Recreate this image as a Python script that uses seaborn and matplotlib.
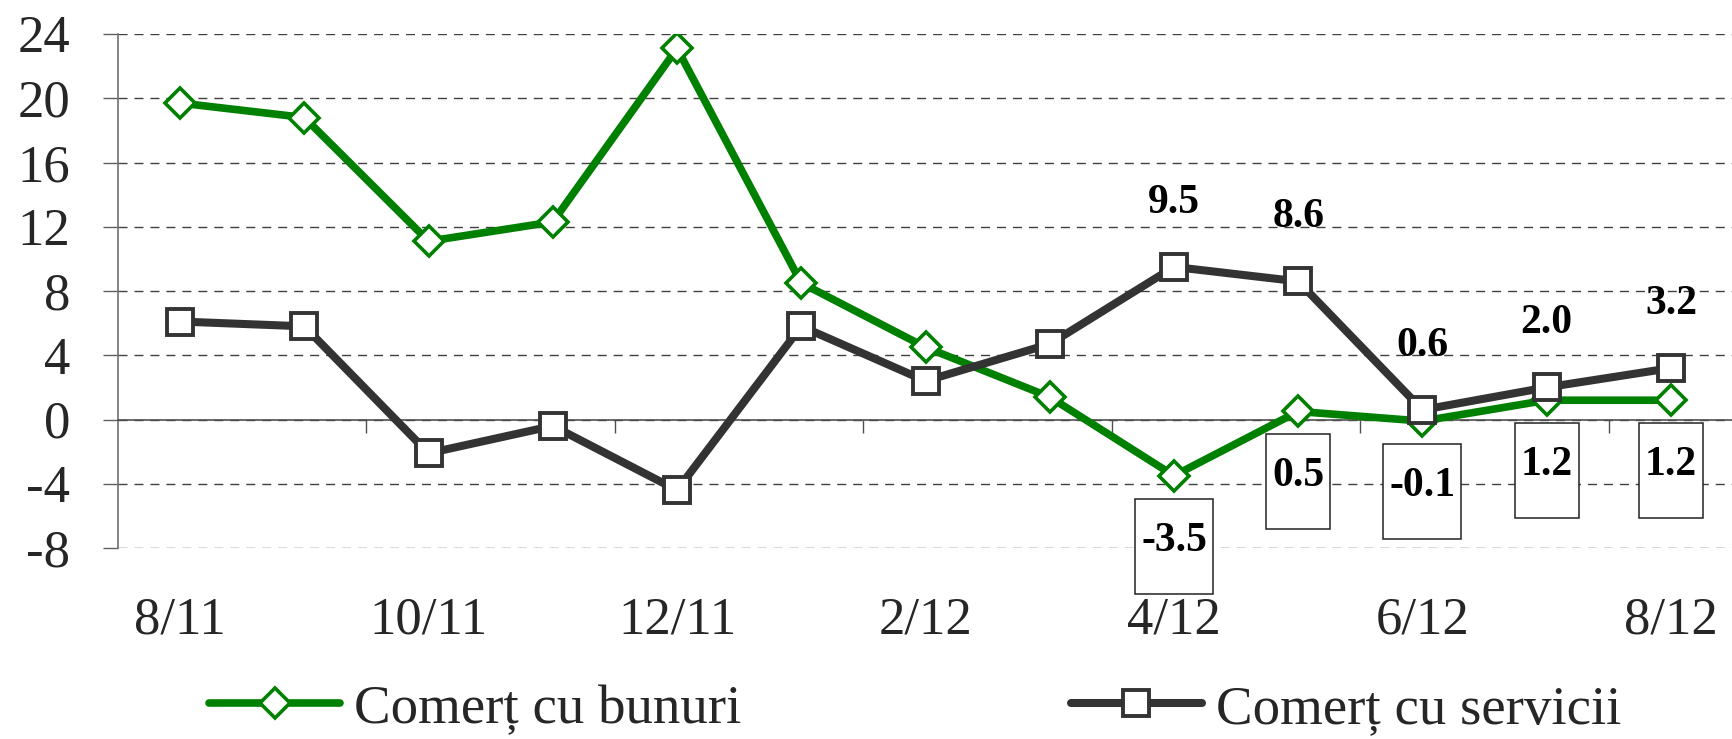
import matplotlib
matplotlib.use("Agg")
import matplotlib.pyplot as plt
import numpy as np
import pandas as pd
import seaborn as sns
from matplotlib.path import Path

# ---------------- data ----------------
months = ["8/11", "9/11", "10/11", "11/11", "12/11", "1/12", "2/12",
          "3/12", "4/12", "5/12", "6/12", "7/12", "8/12"]
bunuri = [19.7, 18.8, 11.1, 12.3, 23.1, 8.5, 4.5, 1.4, -3.5, 0.5, -0.1, 1.2, 1.2]
servicii = [6.1, 5.8, -2.1, -0.4, -4.4, 5.8, 2.4, 4.7, 9.5, 8.6, 0.6, 2.0, 3.2]
series_names = ["Comerț cu bunuri", "Comerț cu servicii"]
y_ticks = [-8, -4, 0, 4, 8, 12, 16, 20, 24]
first_labelled = 8

# ---------------- style ----------------
sns.set_theme(style="white")
plt.rcParams["font.family"] = ["Liberation Serif", "DejaVu Serif"]
plt.rcParams["axes.unicode_minus"] = False

GREEN = "#008000"
DARK = "#333333"
W, H = 1733, 739

fig = plt.figure(figsize=(W / 100, H / 100), dpi=100)
ax = fig.add_axes([118 / W, 1 - 548 / H, 1 - 118 / W, (548 - 34) / H])

df = pd.DataFrame({"idx": np.arange(len(months)), "month": months,
                   "bunuri": bunuri, "servicii": servicii})

sns.lineplot(data=df, x="idx", y="bunuri", ax=ax, color=GREEN, lw=5.5,
             marker="D", ms=15, mfc="white", mec=GREEN, mew=2.6,
             label=series_names[0], zorder=3, sort=False)
sns.lineplot(data=df, x="idx", y="servicii", ax=ax, color=DARK, lw=5.8,
             marker="s", ms=18.5, mfc="white", mec=DARK, mew=2.8,
             label=series_names[1], zorder=4, sort=False)

ax.set_xlim(-0.5, len(months) - 0.5)
ax.set_ylim(y_ticks[0], y_ticks[-1])
ax.set_xlabel("")
ax.set_ylabel("")

# y axis
ax.set_yticks(y_ticks)
ax.set_yticklabels([str(v) for v in y_ticks])
ax.tick_params(axis="y", direction="out", length=10.5, width=1.0,
               color="#606060", pad=24, labelsize=38, left=True)
ax.yaxis.grid(True, color="#404040", lw=1.0, ls=(0, (6.5, 5)))
ax.xaxis.grid(False)

for s in ["top", "right"]:
    ax.spines[s].set_visible(False)
ax.spines["left"].set_color("#707070")
ax.spines["left"].set_linewidth(1.2)
ax.spines["bottom"].set_position(("data", 0))
ax.spines["bottom"].set_color("#505050")
ax.spines["bottom"].set_linewidth(1.2)

# tick marks on the zero line at category boundaries every 2 months
ax.set_xticks(np.arange(1.5, len(months) - 1, 2))
ax.tick_params(axis="x", direction="out", length=9, width=1.0,
               color="#505050", labelbottom=False, bottom=True)

# month labels at the bottom of the plot
sec = ax.secondary_xaxis("bottom")
sec.set_xticks(np.arange(0, len(months), 2), labels=months[::2])
sec.tick_params(length=0, pad=35, labelsize=38)
sec.spines["bottom"].set_visible(False)

# data labels: services above
for i in range(first_labelled, len(months)):
    ax.annotate(f"{servicii[i]:.1f}", (i, servicii[i]), xytext=(0, 64 * 0.72),
                textcoords="offset points", ha="center", va="center",
                fontsize=30, fontweight="bold", color="black", zorder=6)


def tall_box(x0, y0, width, height, mutation_size):
    padx = 6
    cy = y0 + height / 2
    top = cy + 42
    bot = cy - 53
    l, r = x0 - padx, x0 + width + padx
    return Path([(l, bot), (r, bot), (r, top), (l, top), (l, bot)], closed=True)


for i in range(first_labelled, len(months)):
    ax.annotate(f"{bunuri[i]:.1f}", (i, bunuri[i]), xytext=(0, -65 * 0.72),
                textcoords="offset points", ha="center", va="center",
                fontsize=30, fontweight="bold", color="black", zorder=6,
                bbox=dict(boxstyle=tall_box, fc="white", ec="#222222", lw=1.1))

# legend
handles, labels = ax.get_legend_handles_labels()
if ax.get_legend() is not None:
    ax.get_legend().remove()
fig.legend(handles, labels, loc="center", bbox_to_anchor=(0.528, 0.04),
           ncol=2, frameon=False, fontsize=39.5, handlelength=2.4,
           handletextpad=0.25, columnspacing=6.0, borderaxespad=0)

fig.savefig("out.png", dpi=100)
